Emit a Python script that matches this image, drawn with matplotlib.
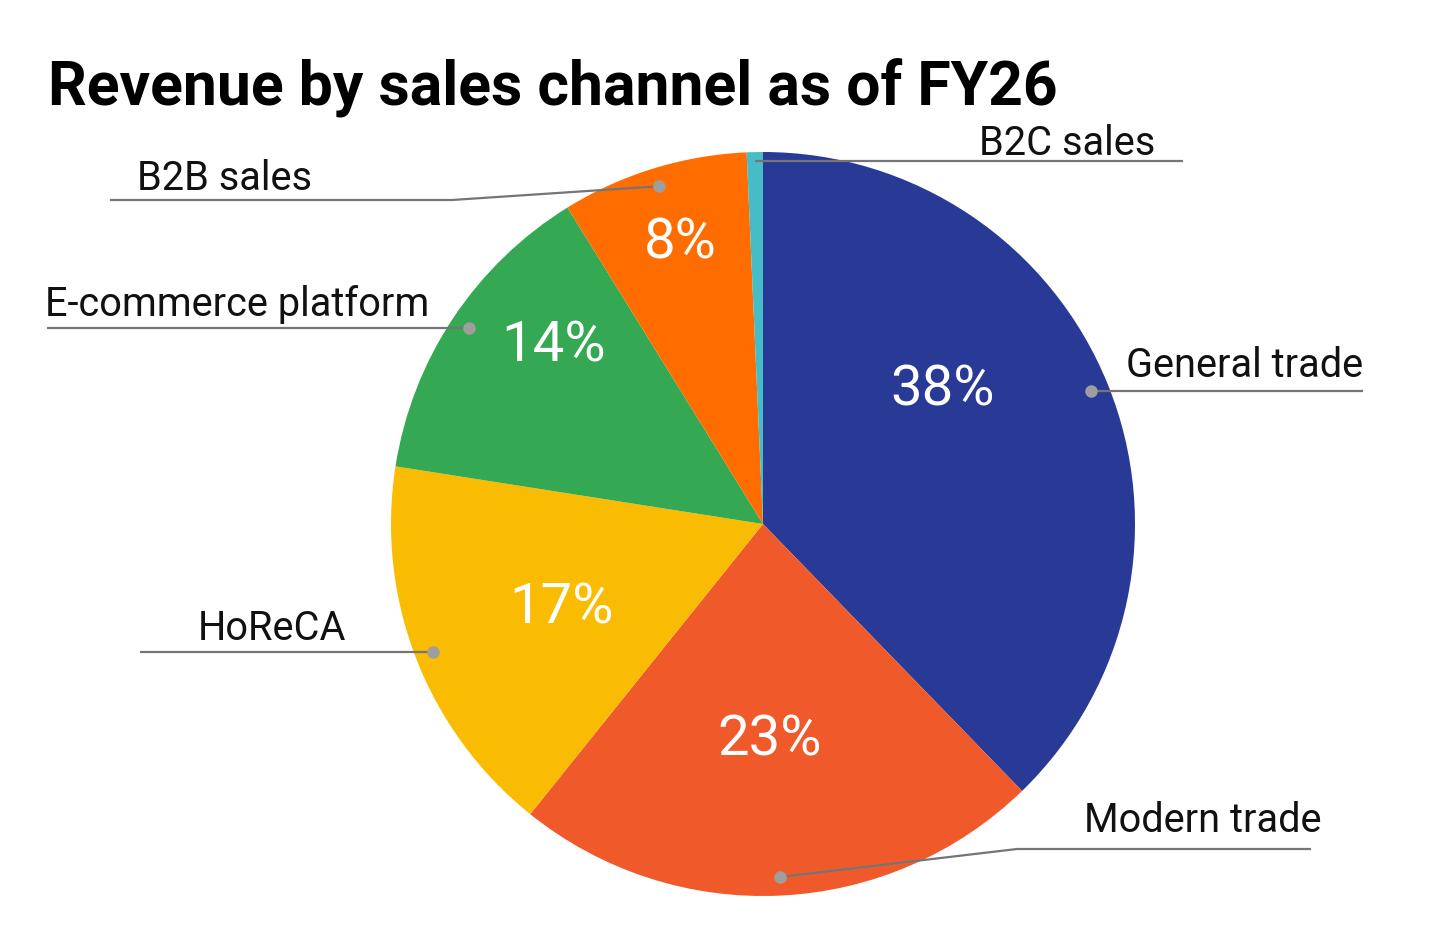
import matplotlib
matplotlib.use("Agg")
import matplotlib.pyplot as plt
import numpy as np

# ---- data ----
channels = ["General trade", "Modern trade", "HoReCA", "E-commerce platform", "B2B sales", "B2C sales"]
shares = [37.7, 23.0, 16.7, 13.7, 8.1, 0.7]
colors = ["#283a96", "#f05a2b", "#f9bc02", "#34a853", "#ff6d01", "#46bdc6"]
title = "Revenue by sales channel as of FY26"

W, H = 1456, 944
fig = plt.figure(figsize=(W / 100, H / 100), dpi=100)
ax = fig.add_axes([0, 0, 1, 1])

cx, cy, R = 763, 420, 372
wedges, _ = ax.pie(shares, colors=colors, startangle=90, counterclock=False,
                   center=(cx, cy), radius=R, frame=True,
                   wedgeprops=dict(linewidth=0))
ax.set_xlim(0, W)
ax.set_ylim(0, H)
ax.set_aspect("equal")
ax.axis("off")

# percentage labels (white)
pct_pos = {
    "General trade": (943, 554),
    "Modern trade": (770, 204),
    "HoReCA": (562, 336),
    "E-commerce platform": (554, 598),
    "B2B sales": (680, 701),
}
for name, val in zip(channels, shares):
    if name in pct_pos:
        x, y = pct_pos[name]
        ax.text(x, y, f"{round(val):d}%", color="white", fontsize=40.5,
                family="Roboto", ha="center", va="center")

# leader lines & labels: (anchor radius factor, path points after anchor, text x, text baseline y, ha)
layout = {
    "General trade": (0.95, [(1363, None)], 1363, 567, "right"),
    "Modern trade": (0.95, [(1017, 95), (1311, 95)], 1322, 112, "right"),
    "HoReCA": (0.95, [(140, None)], 198, 304, "left"),
    "E-commerce platform": (0.95, [(47, None)], 45, 628, "left"),
    "B2B sales": (0.95, [(452, 744), (110, 744)], 137, 754, "left"),
    "B2C sales": (0.976, [(1183, None)], 1155, 789, "right"),
}
line_col = "#757575"
dot_col = "#9e9e9e"
for w, name in zip(wedges, channels):
    rf, pts, tx, ty, ha = layout[name]
    mid = np.deg2rad((w.theta1 + w.theta2) / 2)
    ax0 = cx + rf * R * np.cos(mid)
    ay0 = cy + rf * R * np.sin(mid)
    xs, ys = [ax0], [ay0]
    for px, py in pts:
        xs.append(px)
        ys.append(ay0 if py is None else py)
    ax.plot(xs, ys, color=line_col, lw=1.6, solid_capstyle="butt", zorder=3)
    if name != "B2C sales":
        ax.plot([ax0], [ay0], "o", color=dot_col, ms=9, mew=0, zorder=4)
    ax.text(tx, ty, name, fontsize=28.6, family="Roboto", color="#111111",
            ha=ha, va="baseline")

ax.text(48, 944 - 106, title, fontsize=43.7, family="Roboto", weight="bold",
        color="black", ha="left", va="baseline")

fig.savefig("out.png", dpi=100, facecolor="white")
